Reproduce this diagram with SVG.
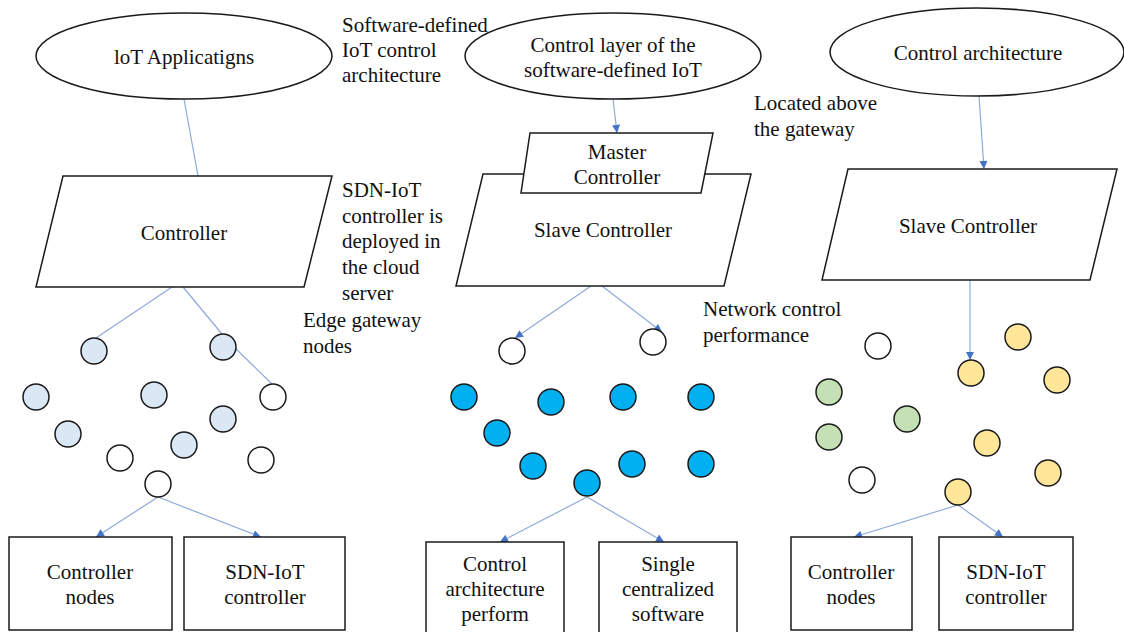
<svg xmlns="http://www.w3.org/2000/svg" width="1124" height="632" viewBox="0 0 1124 632">
<style>
text{font-family:"Times New Roman","Liberation Serif",Tinos,"DejaVu Serif",serif;font-size:21px;fill:#111}
.c{text-anchor:middle}
.shape{fill:#fff;stroke:#1a1a1a;stroke-width:1.5}
.n{stroke:#1a1a1a;stroke-width:1.5}
.w{fill:#fff}.lb{fill:#DAE7F4}.b{fill:#00B0F0}.g{fill:#C5E0B4}.y{fill:#FFE699}
.ln{stroke:#8EAADB;stroke-width:1.2;fill:none}
.ar{marker-end:url(#ah)}
</style>
<defs>
<marker id="ah" viewBox="0 0 10 10" refX="10" refY="5" markerWidth="9" markerHeight="8" markerUnits="userSpaceOnUse" orient="auto">
<path d="M0,0 L10,5 L0,10 z" fill="#4472C4"/>
</marker>
</defs>
<rect width="1124" height="632" fill="#fff"/>

<g id="connectors">
<line class="ln" x1="184" y1="99" x2="198" y2="176"/>
<line class="ln" x1="172" y1="287" x2="96" y2="338"/>
<line class="ln" x1="183" y1="287" x2="222" y2="334"/>
<line class="ln" x1="235" y1="348" x2="272" y2="384"/>
<line class="ln ar" x1="158" y1="497" x2="96" y2="537"/>
<line class="ln ar" x1="158" y1="497" x2="261" y2="537"/>
<line class="ln ar" x1="613" y1="99" x2="617" y2="133"/>
<line class="ln ar" x1="591" y1="286" x2="515" y2="338"/>
<line class="ln ar" x1="602" y1="286" x2="662" y2="332"/>
<line class="ln ar" x1="587" y1="497" x2="500" y2="542"/>
<line class="ln ar" x1="587" y1="497" x2="664" y2="542"/>
<line class="ln ar" x1="979" y1="96" x2="984" y2="169"/>
<line class="ln ar" x1="970" y1="280" x2="970" y2="360"/>
<line class="ln ar" x1="958" y1="505" x2="854" y2="537"/>
<line class="ln ar" x1="958" y1="505" x2="1003" y2="537"/>
</g>

<!-- Left panel -->
<g id="iot-apps"><ellipse class="shape" cx="184" cy="56" rx="148" ry="43"/><text class="c" x="184" y="64">loT Applicatigns</text></g>
<g id="controller"><polygon class="shape" points="63,176 332,176 304,287 36,287"/><text class="c" x="184" y="240">Controller</text></g>
<g id="label-sd-iot"><text x="342" y="32">Software-defined</text><text x="342" y="57">IoT control</text><text x="342" y="82">architecture</text></g>
<g id="label-sdn-cloud"><text x="342" y="197">SDN-IoT</text><text x="342" y="223">controller is</text><text x="342" y="248">deployed in</text><text x="342" y="274">the cloud</text><text x="342" y="300">server</text></g>
<g id="label-edge"><text x="303" y="327">Edge gateway</text><text x="303" y="353">nodes</text></g>
<g id="left-nodes">
<circle class="n lb" cx="94" cy="351" r="13"/>
<circle class="n lb" cx="223" cy="347" r="13"/>
<circle class="n lb" cx="36" cy="397" r="13"/>
<circle class="n lb" cx="154" cy="395" r="13"/>
<circle class="n w" cx="273" cy="397" r="13"/>
<circle class="n lb" cx="223" cy="419" r="13"/>
<circle class="n lb" cx="68" cy="434" r="13"/>
<circle class="n lb" cx="184" cy="445" r="13"/>
<circle class="n w" cx="120" cy="458" r="13"/>
<circle class="n w" cx="261" cy="460" r="13"/>
<circle class="n w" cx="158" cy="484" r="13"/>
</g>
<g id="left-box1"><rect class="shape" x="9" y="537" width="163" height="93"/><text class="c" x="90" y="579">Controller</text><text class="c" x="90" y="604">nodes</text></g>
<g id="left-box2"><rect class="shape" x="184" y="537" width="161" height="93"/><text class="c" x="265" y="579">SDN-IoT</text><text class="c" x="265" y="604">controller</text></g>

<!-- Middle panel -->
<g id="control-layer"><ellipse class="shape" cx="613" cy="56" rx="148" ry="43"/><text class="c" x="613" y="52">Control layer of the</text><text class="c" x="613" y="77">software-defined IoT</text></g>
<g id="slave-mid"><polygon class="shape" points="483,174 751,174 724,286 456,286"/><text class="c" x="603" y="237">Slave Controller</text></g>
<g id="master"><polygon class="shape" points="530,133 713,133 701,193 521,193"/><text class="c" x="617" y="159">Master</text><text class="c" x="617" y="184">Controller</text></g>
<g id="label-located"><text x="754" y="110">Located above</text><text x="754" y="136">the gateway</text></g>
<g id="label-network"><text x="703" y="316">Network control</text><text x="703" y="342">performance</text></g>
<g id="mid-nodes">
<circle class="n w" cx="512" cy="351" r="13"/>
<circle class="n w" cx="653" cy="342" r="13"/>
<circle class="n b" cx="464" cy="397" r="13"/>
<circle class="n b" cx="551" cy="402" r="13"/>
<circle class="n b" cx="623" cy="397" r="13"/>
<circle class="n b" cx="701" cy="397" r="13"/>
<circle class="n b" cx="497" cy="433" r="13"/>
<circle class="n b" cx="533" cy="466" r="13"/>
<circle class="n b" cx="632" cy="464" r="13"/>
<circle class="n b" cx="701" cy="464" r="13"/>
<circle class="n b" cx="587" cy="483" r="13"/>
</g>
<g id="mid-box1"><rect class="shape" x="426" y="542" width="138" height="95"/><text class="c" x="495" y="571">Control</text><text class="c" x="495" y="596">architecture</text><text class="c" x="495" y="621">perform</text></g>
<g id="mid-box2"><rect class="shape" x="599" y="542" width="138" height="95"/><text class="c" x="668" y="571">Single</text><text class="c" x="668" y="596">centralized</text><text class="c" x="668" y="621">software</text></g>

<!-- Right panel -->
<g id="control-arch"><ellipse class="shape" cx="977" cy="52" rx="147" ry="44"/><text class="c" x="978" y="60">Control architecture</text></g>
<g id="slave-right"><polygon class="shape" points="848,169 1117,169 1090,280 822,280"/><text class="c" x="968" y="233">Slave Controller</text></g>
<g id="right-nodes">
<circle class="n w" cx="878" cy="346" r="13"/>
<circle class="n y" cx="1018" cy="337" r="13"/>
<circle class="n y" cx="971" cy="373" r="13"/>
<circle class="n y" cx="1057" cy="380" r="13"/>
<circle class="n g" cx="829" cy="392" r="13"/>
<circle class="n g" cx="907" cy="419" r="13"/>
<circle class="n g" cx="829" cy="437" r="13"/>
<circle class="n y" cx="987" cy="443" r="13"/>
<circle class="n y" cx="1048" cy="473" r="13"/>
<circle class="n w" cx="862" cy="480" r="13"/>
<circle class="n y" cx="958" cy="492" r="13"/>
</g>
<g id="right-box1"><rect class="shape" x="791" y="537" width="121" height="93"/><text class="c" x="851" y="579">Controller</text><text class="c" x="851" y="604">nodes</text></g>
<g id="right-box2"><rect class="shape" x="939" y="537" width="134" height="93"/><text class="c" x="1006" y="579">SDN-IoT</text><text class="c" x="1006" y="604">controller</text></g>
</svg>
